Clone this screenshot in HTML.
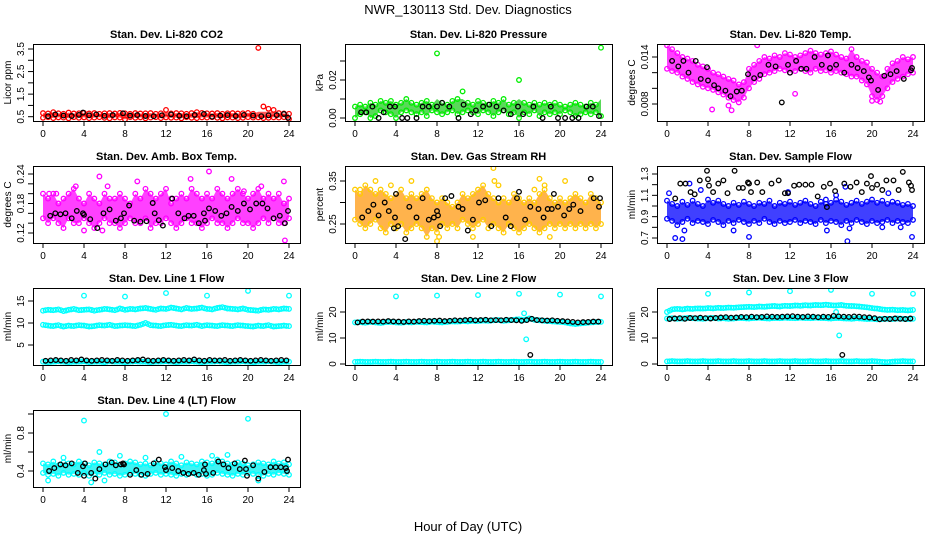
<!DOCTYPE html>
<html><head><meta charset="utf-8"><style>
html,body{margin:0;padding:0;background:#fff}
svg{display:block;font-family:"Liberation Sans",Arial,sans-serif}
</style></head><body>
<svg id="chart" width="936" height="540" viewBox="0 0 936 540">
<text x="468" y="14" text-anchor="middle" font-size="13">NWR_130113  Std. Dev. Diagnostics</text>
<text x="468" y="531" text-anchor="middle" font-size="13">Hour of Day (UTC)</text>
</svg>
<script>
// ---- data (t for band arrays = index * 0.5 h) ----
const co2Hi=[0.66,0.64,0.70,0.65,0.63,0.68,0.64,0.65,0.67,0.64,0.66,0.63,0.65,0.66,0.64,0.67,0.65,0.63,0.66,0.64,0.65,0.66,0.63,0.65,0.80,0.64,0.66,0.65,0.63,0.66,0.70,0.67,0.65,0.64,0.66,0.63,0.65,0.66,0.64,0.65,0.67,0.63,3.55,0.95,0.85,0.80,0.66,0.64,0.63];
const co2Lo=[0.45,0.48,0.44,0.47,0.46,0.43,0.48,0.45,0.47,0.44,0.46,0.48,0.45,0.43,0.47,0.46,0.38,0.48,0.45,0.47,0.43,0.46,0.48,0.44,0.47,0.45,0.46,0.43,0.48,0.45,0.44,0.47,0.46,0.48,0.45,0.43,0.47,0.46,0.44,0.45,0.48,0.46,0.47,0.44,0.45,0.47,0.46,0.48,0.40];
const co2BlkT=[0.5,1.2,2,2.8,3.5,3.9,4.5,5.2,6,6.8,7.8,8.5,9.2,10,10.8,11.6,12.5,13.3,14,14.8,15.7,16.5,17.3,18,18.8,19.6,20.5,21.3,22,22.8,23.5,23.9];
const co2BlkV=[0.52,0.60,0.55,0.53,0.58,0.68,0.56,0.60,0.54,0.57,0.65,0.55,0.57,0.53,0.52,0.56,0.60,0.54,0.52,0.58,0.62,0.50,0.55,0.57,0.53,0.58,0.55,0.52,0.56,0.57,0.62,0.45];

const prHi=[0.006,0.007,0.006,0.008,0.007,0.009,0.008,0.009,0.007,0.008,0.010,0.008,0.007,0.008,0.009,0.007,0.034,0.008,0.007,0.009,0.010,0.014,0.008,0.007,0.009,0.008,0.007,0.009,0.008,0.010,0.007,0.008,0.020,0.008,0.007,0.008,0.007,0.008,0.007,0.008,0.007,0.006,0.007,0.008,0.007,0.006,0.008,0.007,0.037];
const prLo=[0.000,0.002,0.003,0.000,0.001,0.004,0.003,0.002,0.000,0.003,0.004,0.003,0.002,0.003,0.001,0.004,0.003,0.002,0.003,0.004,0.002,0.003,0.004,0.003,0.002,0.004,0.003,0.001,0.003,0.004,0.002,0.003,0.000,0.003,0.002,0.004,0.001,0.003,0.002,0.003,0.002,0.004,0.003,0.001,0.002,0.003,0.002,0.003,0.001];
const prBlkT=[0.6,1.1,1.7,2.3,2.8,3.4,3.9,4.6,5.1,6,6.6,7.2,8,8.5,9.2,10.1,10.6,11.3,11.8,12.5,13.1,13.8,14.5,15.2,15.9,16.4,17.4,18.3,19.1,19.8,20.5,21.2,21.8,22.6,23.2,23.8];
const prBlkV=[0.003,0.003,0.006,0.000,0.003,0.006,0.006,0.000,0.000,0.000,0.006,0.006,0.006,0.008,0.006,0.000,0.007,0.002,0.004,0.006,0.007,0.006,0.004,0.002,0.006,0.002,0.006,0.000,0.006,0.000,0.000,0.000,0.000,0.006,0.006,0.001];

const tmpHi=[0.0155,0.0150,0.0145,0.0140,0.0138,0.0135,0.0130,0.0128,0.0125,0.0120,0.0118,0.0115,0.0112,0.0110,0.0105,0.0108,0.0125,0.0130,0.0135,0.0140,0.0138,0.0142,0.0140,0.0145,0.0143,0.0140,0.0142,0.0145,0.0148,0.0145,0.0143,0.0145,0.0147,0.0143,0.0140,0.0138,0.0150,0.0140,0.0135,0.0133,0.0125,0.0120,0.0115,0.0125,0.0132,0.0135,0.0140,0.0137,0.0140];
const tmpLo=[0.0125,0.0122,0.0120,0.0115,0.0112,0.0108,0.0105,0.0102,0.0100,0.0098,0.0095,0.0092,0.0088,0.0085,0.0082,0.0088,0.0100,0.0108,0.0112,0.0118,0.0120,0.0122,0.0125,0.0123,0.0120,0.0122,0.0125,0.0122,0.0120,0.0125,0.0122,0.0123,0.0120,0.0122,0.0120,0.0118,0.0115,0.0115,0.0110,0.0105,0.0090,0.0085,0.0090,0.0100,0.0108,0.0112,0.0115,0.0118,0.0120];
const tmpExT=[4.4,6.0,6.3,8.8,20.0,20.8,12.5];
const tmpExV=[0.0073,0.0078,0.0072,0.0155,0.0084,0.0083,0.0093];
const tmpBlkT=[0.5,1.1,1.6,2.1,2.8,3.3,3.9,4.0,4.6,5.0,5.7,6.2,6.8,7.3,7.9,8.5,9.1,9.9,10.6,11.2,11.8,12.0,12.6,13.1,13.6,14.4,15.1,15.7,15.9,16.5,17.3,18.0,18.6,19.2,19.7,19.9,20.6,21.2,21.8,22.4,23.1,23.8,23.9];
const tmpBlkV=[0.0135,0.0128,0.0135,0.0120,0.0135,0.0112,0.0127,0.0110,0.0104,0.0100,0.0097,0.0090,0.0096,0.0097,0.0118,0.0113,0.0117,0.0130,0.0128,0.0082,0.0130,0.0120,0.0135,0.0125,0.0125,0.0140,0.0130,0.0142,0.0126,0.0130,0.0120,0.0130,0.0126,0.0122,0.0114,0.0110,0.0098,0.0116,0.0118,0.0122,0.0112,0.0123,0.0126];

const ambHi=[0.20,0.19,0.20,0.18,0.19,0.20,0.21,0.19,0.18,0.20,0.19,0.18,0.20,0.19,0.19,0.20,0.19,0.18,0.20,0.19,0.21,0.20,0.19,0.20,0.21,0.18,0.19,0.20,0.19,0.21,0.20,0.19,0.20,0.19,0.21,0.20,0.19,0.20,0.21,0.20,0.19,0.20,0.21,0.19,0.20,0.19,0.20,0.18,0.19];
const ambLo=[0.15,0.14,0.15,0.14,0.13,0.15,0.14,0.14,0.15,0.14,0.13,0.14,0.15,0.14,0.14,0.13,0.14,0.15,0.14,0.14,0.15,0.13,0.14,0.14,0.15,0.14,0.13,0.14,0.15,0.14,0.14,0.13,0.14,0.15,0.14,0.14,0.13,0.14,0.15,0.14,0.14,0.13,0.14,0.15,0.14,0.15,0.14,0.14,0.15];
const ambExT=[5.5,6.3,9.2,12.5,14.4,16.2,18.4,19.6,21.3,23.5,23.6,0.6,1.3,3.2,4.0,5.8];
const ambExV=[0.235,0.215,0.225,0.19,0.23,0.245,0.23,0.205,0.215,0.225,0.105,0.20,0.20,0.215,0.125,0.125];
const ambBlkT=[0.7,1.2,1.7,2.2,2.8,3.3,3.9,4.0,4.6,5.3,5.9,6.5,7.1,7.6,7.9,8.4,8.9,9.5,10.1,10.7,10.9,11.3,11.7,12.6,13.2,13.8,14.2,14.7,15.2,15.7,15.8,16.2,16.8,17.4,17.9,18.4,19.0,19.6,20.2,20.8,21.4,21.9,22.5,23.1,23.6,23.9];
const ambBlkV=[0.155,0.16,0.158,0.16,0.15,0.165,0.16,0.157,0.148,0.13,0.16,0.168,0.145,0.15,0.16,0.176,0.145,0.143,0.144,0.181,0.16,0.146,0.135,0.19,0.16,0.15,0.155,0.155,0.14,0.16,0.145,0.17,0.165,0.155,0.16,0.173,0.165,0.18,0.168,0.18,0.18,0.17,0.15,0.155,0.14,0.165];

const rhHi=[0.33,0.32,0.34,0.33,0.32,0.33,0.32,0.31,0.32,0.33,0.31,0.32,0.31,0.32,0.33,0.31,0.30,0.31,0.30,0.29,0.30,0.32,0.31,0.32,0.33,0.34,0.32,0.31,0.30,0.31,0.30,0.32,0.31,0.30,0.31,0.30,0.32,0.33,0.31,0.30,0.31,0.30,0.31,0.32,0.31,0.30,0.32,0.31,0.30];
const rhLo=[0.26,0.25,0.24,0.25,0.26,0.24,0.23,0.25,0.24,0.25,0.23,0.24,0.25,0.24,0.22,0.24,0.23,0.25,0.24,0.25,0.24,0.26,0.25,0.24,0.25,0.26,0.24,0.25,0.24,0.23,0.25,0.24,0.23,0.24,0.25,0.24,0.23,0.24,0.25,0.24,0.25,0.24,0.25,0.24,0.25,0.24,0.25,0.24,0.25];
const rhExT=[0.5,2,3.5,5.5,8,8.2,11.5,13.5,13.6,14,17.5,18,18.5,19,20.5];
const rhExV=[0.33,0.35,0.34,0.35,0.21,0.22,0.22,0.38,0.35,0.34,0.33,0.355,0.34,0.22,0.35];
const rhBlkT=[0.7,1.3,1.8,2.3,2.9,3.3,3.8,3.9,4.0,4.2,4.9,5.3,6.0,6.6,7.2,7.7,8.0,8.1,8.3,8.8,9.4,10.1,10.5,11.0,11.5,12.1,12.7,13.3,14.0,14.7,15.2,15.8,16.0,16.6,17.1,17.9,18.4,18.8,19.2,19.4,19.8,20.4,20.9,21.3,22.0,23.0,23.3,23.9,23.8];
const rhBlkV=[0.265,0.28,0.295,0.27,0.30,0.28,0.24,0.265,0.32,0.245,0.215,0.29,0.265,0.31,0.26,0.265,0.28,0.27,0.245,0.31,0.315,0.29,0.285,0.235,0.26,0.30,0.305,0.245,0.31,0.265,0.245,0.31,0.325,0.26,0.29,0.285,0.265,0.285,0.285,0.32,0.29,0.27,0.285,0.295,0.28,0.355,0.31,0.31,0.29];

const sfHi=[1.05,1.02,1.00,1.04,1.01,1.05,1.02,1.00,1.06,1.03,1.05,1.02,1.00,1.03,1.01,1.04,1.02,1.00,1.03,1.02,1.05,1.00,1.03,1.02,1.04,1.01,1.03,1.05,1.02,1.00,1.04,1.02,1.03,1.06,1.04,1.01,1.03,1.05,1.02,1.04,1.06,1.03,1.05,1.02,1.04,1.03,1.01,1.02,1.00];
const sfLo=[0.88,0.86,0.82,0.85,0.88,0.84,0.86,0.85,0.83,0.87,0.85,0.82,0.86,0.84,0.87,0.85,0.83,0.86,0.84,0.88,0.85,0.83,0.86,0.84,0.85,0.87,0.84,0.86,0.85,0.83,0.87,0.84,0.86,0.85,0.82,0.86,0.84,0.87,0.85,0.83,0.86,0.84,0.85,0.87,0.84,0.86,0.85,0.84,0.87];
const sfExT=[0.2,0.8,1.5,1.7,2.2,3.3,6.5,8,11.8,15.5,15.6,16.5,17.4,17.6,17.8,21,21.6,22.8,23.9];
const sfExV=[1.12,0.70,0.69,0.77,1.21,1.15,0.77,0.71,1.13,1.06,0.77,1.10,1.18,0.67,0.79,0.80,1.12,0.80,0.71];
const sfBlkT=[0.8,1.3,1.8,2.3,2.7,3.2,3.9,4.0,4.1,4.5,5.0,5.5,5.9,6.6,7.0,7.4,7.9,8.0,8.2,8.8,9.3,10.2,10.9,11.5,11.8,12.4,12.9,13.5,14.1,14.7,15.3,15.6,15.9,16.4,17.3,17.9,18.5,19.0,19.5,19.9,20.0,20.5,21.0,21.4,22.1,22.6,23.0,23.6,23.8,23.9];
const sfBlkV=[1.07,1.21,1.21,1.13,1.11,1.24,1.33,1.25,1.19,1.13,1.21,1.24,1.12,1.33,1.17,1.17,1.22,1.21,1.13,1.22,1.13,1.21,1.24,1.12,1.12,1.19,1.20,1.20,1.20,1.09,1.18,0.99,1.21,1.14,1.21,1.18,1.22,1.13,1.21,1.28,1.17,1.20,1.15,1.24,1.24,1.15,1.32,1.22,1.19,1.15];

const l1Hi=[12.8,13.0,12.9,13.1,12.7,13.0,13.2,12.9,13.0,13.1,12.8,13.0,13.2,13.1,12.9,13.3,13.0,13.2,13.1,13.3,13.4,13.2,13.0,13.3,13.2,13.5,13.3,13.1,13.4,13.2,13.3,13.5,13.2,13.1,13.4,13.6,13.3,13.2,13.1,13.3,13.0,12.9,12.8,13.1,13.0,13.2,13.1,13.3,13.2];
const l1Mid=[9.6,9.4,9.3,9.5,9.2,9.4,9.3,9.5,9.4,9.2,9.3,9.5,9.4,9.6,9.3,9.4,9.5,9.4,9.3,9.6,10.0,9.5,9.4,9.3,9.5,9.6,9.4,9.3,9.5,9.4,9.6,9.3,9.5,9.4,9.3,9.5,9.4,9.3,9.5,9.4,9.3,9.2,9.4,9.3,9.5,9.2,9.3,9.4,9.3];
const l1Lo=[1.2,1.1,1.2,1.3,1.2,1.1,1.2,1.2,1.3,1.1,1.2,1.2,1.1,1.3,1.2,1.2,1.1,1.2,1.3,1.2,1.2,1.1,1.2,1.2,1.3,1.2,1.1,1.2,1.2,1.3,1.2,1.1,1.2,1.2,1.3,1.2,1.1,1.2,1.2,1.3,1.2,1.1,1.2,1.2,1.3,1.2,1.1,1.2,1.2];
const l1ExT=[4,8,12,16,20,24];
const l1ExV=[16.2,16.0,16.8,16.2,17.3,16.2];
const l1Blk=[1.4,1.5,1.6,1.5,1.4,1.6,1.5,1.7,1.5,1.4,1.5,1.6,1.5,1.4,1.6,1.5,1.4,1.5,1.6,1.7,1.5,1.4,1.5,1.6,1.5,1.4,1.5,1.6,1.5,1.7,1.5,1.4,1.6,1.5,1.5,1.6,1.4,1.5,1.6,1.5,1.4,1.5,1.6,1.5,1.4,1.5,1.6,1.5];

const l2Hi=[16.0,16.1,15.9,16.2,16.0,15.8,16.1,16.2,16.0,15.9,16.1,16.0,16.2,16.1,16.0,16.3,16.1,16.0,16.2,16.4,16.3,16.5,16.4,16.6,16.5,16.7,16.6,16.8,16.9,16.6,16.8,17.0,17.2,16.9,17.5,17.0,16.8,16.6,16.5,16.3,16.2,16.0,15.6,15.4,15.6,15.8,16.0,16.1,16.2];
const l2Lo=[0.8,0.9,0.8,0.8,0.9,0.8,0.8,0.9,0.8,0.8,0.9,0.8,0.8,0.9,0.8,0.8,0.9,0.8,0.8,0.9,0.8,0.8,0.9,0.8,0.8,0.9,0.8,0.8,0.9,0.8,0.8,0.9,0.8,0.8,0.9,0.8,0.8,0.9,0.8,0.8,0.9,0.8,0.8,0.9,0.8,0.8,0.9,0.8,0.8];
const l2ExT=[4,8,12,16,20,24,16.5,16.7];
const l2ExV=[26.0,26.3,26.5,27.0,26.7,26.0,19.5,9.5];
const l2Blk=[16.0,16.3,16.4,16.3,16.4,16.3,16.5,16.4,16.3,16.2,16.4,16.3,16.5,16.6,16.5,16.6,16.7,16.5,16.6,16.8,16.7,16.9,17.0,16.8,16.9,17.0,16.8,16.9,16.8,17.0,16.9,16.8,16.6,16.9,17.4,16.9,16.8,16.7,16.8,16.6,16.5,16.4,16.2,16.0,16.1,16.2,16.3,16.3];
const l2BlkExT=[17.1];
const l2BlkExV=[3.5];

const l3Hi=[20.0,21.0,21.2,21.0,21.3,21.2,21.4,21.3,21.5,21.4,21.6,21.5,21.7,21.6,21.8,21.9,22.0,21.9,22.1,22.0,22.2,22.3,22.1,22.4,22.3,22.5,22.4,22.6,22.5,22.7,22.6,22.8,22.6,22.5,22.7,22.4,22.3,22.2,22.0,21.8,21.5,21.3,21.0,20.8,20.9,20.7,20.8,20.6,20.8];
const l3Mid=[17.5,17.6,17.4,17.5,17.7,17.6,17.5,17.4,17.6,17.7,17.5,17.6,17.4,17.5,17.7,17.6,17.5,17.7,17.8,17.6,17.5,17.7,17.6,17.8,17.7,17.6,17.8,17.7,17.6,17.8,17.7,17.6,17.5,17.7,17.6,17.5,17.4,17.6,17.5,17.3,17.4,17.2,17.3,17.4,17.3,17.5,17.4,17.3,17.4];
const l3Lo=[1.0,1.1,1.0,1.0,1.1,1.0,1.0,1.1,1.0,1.0,1.1,1.0,1.0,1.1,1.0,1.0,1.1,1.0,1.0,1.1,1.0,1.0,1.1,1.0,1.0,1.1,1.0,1.0,1.1,1.0,1.0,1.1,1.0,1.0,1.1,1.0,1.0,1.1,1.0,1.0,1.1,1.0,0.8,0.7,0.9,1.0,1.1,1.0,1.0];
const l3ExT=[4,8,12,16,20,24,16.8,16.5];
const l3ExV=[27.0,27.5,28.0,28.5,27.0,27.0,11.0,20.0];
const l3Blk=[17.3,17.5,17.6,17.4,17.7,17.6,17.8,17.6,17.5,17.7,17.9,18.0,17.8,17.9,18.1,18.0,18.2,18.0,18.1,18.3,18.2,18.1,18.2,18.3,18.4,18.2,18.1,18.3,18.2,18.0,18.2,18.1,18.5,18.3,18.2,18.1,18.3,18.2,18.0,17.9,17.6,17.2,17.4,17.3,17.5,17.4,17.3,17.5];
const l3BlkExT=[17.1];
const l3BlkExV=[3.5];

const l4Hi=[0.48,0.47,0.50,0.46,0.49,0.48,0.47,0.50,0.48,0.46,0.49,0.48,0.47,0.50,0.49,0.47,0.48,0.50,0.49,0.47,0.48,0.46,0.49,0.48,0.47,0.50,0.48,0.46,0.49,0.48,0.47,0.50,0.49,0.48,0.52,0.50,0.48,0.47,0.49,0.48,0.46,0.47,0.49,0.48,0.47,0.50,0.48,0.49,0.47];
const l4Lo=[0.38,0.36,0.37,0.35,0.38,0.36,0.37,0.36,0.38,0.35,0.37,0.36,0.38,0.36,0.37,0.35,0.36,0.38,0.37,0.36,0.35,0.37,0.38,0.36,0.37,0.36,0.35,0.37,0.36,0.38,0.36,0.37,0.35,0.36,0.38,0.37,0.36,0.35,0.37,0.36,0.38,0.37,0.36,0.35,0.37,0.36,0.38,0.37,0.36];
const l4ExT=[4,12,20,4.7,5.5,6,0.5,18,2,7.5,10,13.5,16.5,21];
const l4ExV=[0.93,1.0,0.95,0.28,0.60,0.30,0.30,0.57,0.54,0.56,0.54,0.55,0.56,0.30];
const l4BlkT=[0.6,1.1,1.7,2.2,2.8,3.4,3.9,4.0,4.1,4.7,5.1,5.5,6.1,6.7,7.1,7.6,7.8,7.9,8.5,9.1,9.6,10.2,10.8,11.3,11.9,12.0,12.6,13.2,13.7,14.2,14.7,15.2,15.7,15.8,15.9,16.6,17.1,17.6,18.1,18.7,19.2,19.7,19.8,19.9,20.5,21.0,21.6,22.2,22.7,23.2,23.7,23.8,23.9];
const l4BlkV=[0.40,0.43,0.47,0.46,0.48,0.38,0.45,0.35,0.48,0.38,0.32,0.42,0.47,0.49,0.46,0.47,0.48,0.47,0.36,0.41,0.36,0.37,0.48,0.52,0.44,0.41,0.43,0.40,0.38,0.37,0.38,0.36,0.41,0.47,0.37,0.38,0.50,0.47,0.43,0.48,0.42,0.51,0.42,0.35,0.46,0.32,0.39,0.44,0.44,0.44,0.43,0.40,0.52];

// tick values
const xTicks=[0,4,8,12,16,20,24];
const co2Ticks=[0.5,1,1.5,2,2.5,3,3.5], co2Labels=["0.5","","1.5","","2.5","","3.5"];
const prTicks=[0,0.01,0.02,0.03], prLabels=["0.00","","0.02",""];
const tmpTicks=[0.008,0.010,0.012,0.014], tmpLabels=["0.008","","","0.014"];
const ambTicks=[0.12,0.14,0.16,0.18,0.20,0.22,0.24], ambLabels=["0.12","","","0.18","","","0.24"];
const rhTicks=[0.25,0.30,0.35], rhLabels=["0.25","","0.35"];
const sfTicks=[0.7,0.8,0.9,1.0,1.1,1.2,1.3], sfLabels=["0.7","","0.9","","1.1","","1.3"];
const l1Ticks=[5,10,15], l1Labels=["5","10","15"];
const l2Ticks=[0,10,20], l2Labels=["0","10","20"];
const l3Ticks=[0,10,20], l3Labels=["0","10","20"];
const l4Ticks=[0.4,0.6,0.8,1.0], l4Labels=["0.4","","0.8",""];

// ---- layout ----
const NS="http://www.w3.org/2000/svg";
const svg=document.getElementById('chart');
const colL=[33,345,657], rowT=[44,166,288,410], BW=267, BH=77;
function mk(tag,attrs,parent){const e=document.createElementNS(NS,tag);for(const k in attrs)e.setAttribute(k,attrs[k]);(parent||svg).appendChild(e);return e;}
const idx=a=>a.map((_,i)=>i*0.5);
const idxB=a=>a.map((_,i)=>0.25+i*0.5);

const panels=[
 {name:'co2',title:'Stan. Dev. Li-820 CO2',ylab:'Licor ppm',c:0,r:0,cal:[0.5,116.7-44,3.5,49-44],ticks:co2Ticks,labels:co2Labels,col:'#ff0000',fill:'#ff2020',bands:[[co2Hi,co2Lo]],pts:[],blk:[[co2BlkT,co2BlkV]]},
 {name:'pressure',title:'Stan. Dev. Li-820 Pressure',ylab:'kPa',c:1,r:0,cal:[0,118-44,0.02,80-44],ticks:prTicks,labels:prLabels,col:'#00ee00',fill:'#22cc22',bands:[[prHi,prLo]],pts:[],blk:[[prBlkT,prBlkV]]},
 {name:'li820-temp',title:'Stan. Dev. Li-820 Temp.',ylab:'degrees C',c:2,r:0,cal:[0.008,104-44,0.014,57-44],ticks:tmpTicks,labels:tmpLabels,col:'#ff00ff',fill:'#ff00ff',bands:[[tmpHi,tmpLo]],pts:[[tmpExT,tmpExV]],blk:[[tmpBlkT,tmpBlkV]]},
 {name:'amb-box-temp',title:'Stan. Dev. Amb. Box Temp.',ylab:'degrees C',c:0,r:1,cal:[0.12,233-166,0.24,174-166],ticks:ambTicks,labels:ambLabels,col:'#ff00ff',fill:'#ff00ff',bands:[[ambHi,ambLo]],pts:[[ambExT,ambExV]],blk:[[ambBlkT,ambBlkV]]},
 {name:'gas-stream-rh',title:'Stan. Dev. Gas Stream RH',ylab:'percent',c:1,r:1,cal:[0.25,224-166,0.35,181-166],ticks:rhTicks,labels:rhLabels,col:'#ffcc00',fill:'#ff9a10',bands:[[rhHi,rhLo]],pts:[[rhExT,rhExV]],blk:[[rhBlkT,rhBlkV]]},
 {name:'sample-flow',title:'Stan. Dev. Sample Flow',ylab:'ml/min',c:2,r:1,cal:[0.7,238-166,1.3,174-166],ticks:sfTicks,labels:sfLabels,col:'#0000ff',fill:'#0000ff',bands:[[sfHi,sfLo]],pts:[[sfExT,sfExV]],blk:[[sfBlkT,sfBlkV]]},
 {name:'line1-flow',title:'Stan. Dev. Line 1 Flow',ylab:'ml/min',c:0,r:2,cal:[5,345-288,15,301-288],ticks:l1Ticks,labels:l1Labels,col:'#00ffff',fill:null,bands:[[l1Hi],[l1Mid],[l1Lo]],pts:[[l1ExT,l1ExV]],blk:[[idxB(l1Blk),l1Blk]]},
 {name:'line2-flow',title:'Stan. Dev. Line 2 Flow',ylab:'ml/min',c:1,r:2,cal:[0,364-288,20,312-288],ticks:l2Ticks,labels:l2Labels,col:'#00ffff',fill:null,bands:[[l2Hi],[l2Lo]],pts:[[l2ExT,l2ExV]],blk:[[idxB(l2Blk),l2Blk],[l2BlkExT,l2BlkExV]]},
 {name:'line3-flow',title:'Stan. Dev. Line 3 Flow',ylab:'ml/min',c:2,r:2,cal:[0,364-288,20,312-288],ticks:l3Ticks,labels:l3Labels,col:'#00ffff',fill:null,bands:[[l3Hi],[l3Mid],[l3Lo]],pts:[[l3ExT,l3ExV]],blk:[[idxB(l3Blk),l3Blk],[l3BlkExT,l3BlkExV]]},
 {name:'line4-flow',title:'Stan. Dev. Line 4 (LT) Flow',ylab:'ml/min',c:0,r:3,cal:[0.4,471-410,0.8,433-410],ticks:l4Ticks,labels:l4Labels,col:'#00ffff',fill:'#00f0f0',bands:[[l4Hi,l4Lo]],pts:[[l4ExT,l4ExV]],blk:[[l4BlkT,l4BlkV]]}
];

panels.forEach(p=>{
  const L=colL[p.c], T=rowT[p.r];
  const g=mk('g',{});
  
  
  const xs=t=>L+10+t*246/24;
  const [v1,p1,v2,p2]=p.cal;
  const ys=v=>T+p1+(v-v1)*(p2-p1)/(v2-v1);
  const clip='clip-'+p.name;
  const cp=mk('clipPath',{id:clip},g); mk('rect',{x:L,y:T,width:BW,height:BH},cp);
  const plot=mk('g',{'clip-path':'url(#'+clip+')'},g);
  
  
  const circ=(t,v,col,parent)=>{const c=mk('circle',{cx:xs(t).toFixed(1),cy:ys(v).toFixed(1),r:2.3,fill:'none',stroke:col,'stroke-width':1.3},parent);
    
    };
  // band fills
  p.bands.forEach(b=>{
    if(b.length===2&&p.fill){
      const hi=b[0],lo=b[1];const ts=idx(hi);
      const cap=v=>Math.min(v,(p.name==='co2'?0.72:p.name==='pressure'?0.010:1e9));
      let d='M'+ts.map((t,i)=>xs(t).toFixed(1)+','+ys(cap(hi[i])).toFixed(1)).join('L');
      d+='L'+ts.map((t,i)=>xs(t).toFixed(1)+','+ys(lo[i]).toFixed(1)).reverse().join('L')+'Z';
      const a=mk('path',{d:d,fill:p.fill,opacity:0.75},plot);
      
      
    }
  });
  const sg=mk('g',{},plot);
  
  
  p.bands.forEach(b=>b.forEach(arr=>{const ts=idx(arr);arr.forEach((v,i)=>circ(ts[i],v,p.col,sg));
    if(b.length===1){const tb=idxB(arr);arr.forEach((v,i)=>{if(i<arr.length-1)circ(tb[i],(v+arr[i+1])/2,p.col,sg);});}}));
  p.pts.forEach(([tt,vv])=>tt.forEach((t,i)=>{if(i<vv.length)circ(t,vv[i],p.col,sg);}));
  const bg=mk('g',{},plot);
  
  
  p.blk.forEach(([tt,vv])=>tt.forEach((t,i)=>{if(i<vv.length)circ(t,vv[i],'#000',bg);}));
  // box
  const bx=mk('rect',{x:L+0.5,y:T+0.5,width:BW,height:BH,fill:'none',stroke:'#000','stroke-width':1},g);
  
  
  // x axis
  xTicks.forEach(t=>{
    const x=xs(t);
    mk('line',{x1:x,y1:T+BH,x2:x,y2:T+BH+5,stroke:'#000'},g);
    const tx=mk('text',{x:x,y:T+BH+16,'text-anchor':'middle','font-size':10},g);
    tx.textContent=t;
    
    
  });
  // y axis
  p.ticks.forEach((v,i)=>{
    const y=ys(v);
    if(y<T-1||y>T+BH+1)return;
    mk('line',{x1:L-5,y1:y,x2:L,y2:y,stroke:'#000'},g);
    if(p.labels[i]){
      const tx=mk('text',{x:L-9,y:y,'text-anchor':'middle','font-size':10,transform:'rotate(-90 '+(L-9)+' '+y+')'},g);
      tx.textContent=p.labels[i];
      
      
    }
  });
  const yl=mk('text',{x:L-22,y:T+BH/2,'text-anchor':'middle','font-size':10,transform:'rotate(-90 '+(L-22)+' '+(T+BH/2)+')'},g);
  yl.textContent=p.ylab;
  
  
  const ti=mk('text',{x:L+BW/2,y:T-6,'text-anchor':'middle','font-size':11,'font-weight':'bold'},g);
  ti.textContent=p.title;
  
  
});
</script>
</body></html>
